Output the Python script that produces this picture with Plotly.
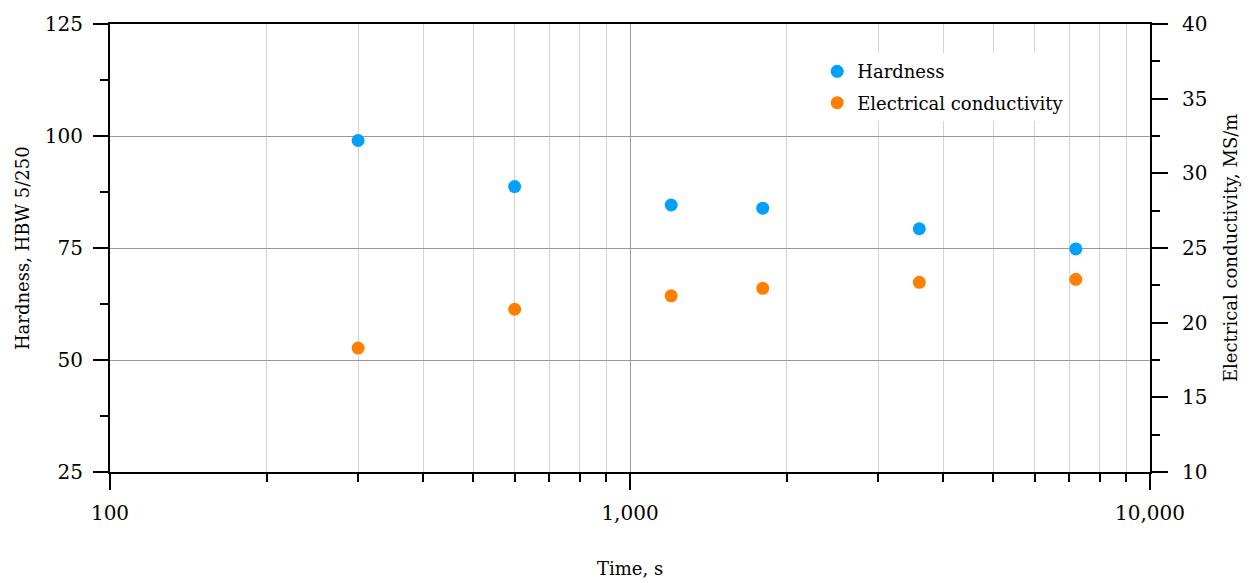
import plotly.graph_objects as go

time_s = [300, 600, 1200, 1800, 3600, 7200]
hardness = [99.0, 88.7, 84.6, 83.9, 79.3, 74.8]
conductivity = [18.3, 20.9, 21.8, 22.3, 22.7, 22.9]

FONT = "DejaVu Serif"
BLUE = "#00A0FF"
ORANGE = "#FF8000"

fig = go.Figure()
fig.add_trace(go.Scatter(x=time_s, y=hardness, mode="markers", name="Hardness",
                         marker=dict(color=BLUE, size=13), legendgroup="a", yaxis="y"))
fig.add_trace(go.Scatter(x=time_s, y=conductivity, mode="markers", name="Electrical conductivity",
                         marker=dict(color=ORANGE, size=13), legendgroup="b", yaxis="y2"))

fig.update_layout(
    width=1245, height=575,
    margin=dict(l=102, r=103, t=16, b=111, autoexpand=False),
    paper_bgcolor="white", plot_bgcolor="white",
    font=dict(family=FONT, size=20, color="black"),
    showlegend=True,
    legend=dict(x=0.68, y=0.935, xanchor="left", yanchor="top", bgcolor="white",
                font=dict(family=FONT, size=18), tracegroupgap=5),
    xaxis=dict(type="log", range=[2, 4], showline=True, linecolor="black", linewidth=2,
               mirror=True, ticks="outside", ticklen=16, tickwidth=2, tickcolor="black",
               tickvals=[100, 1000, 10000], ticktext=["100", "1,000", "10,000"],
               showgrid=True, gridcolor="#9a9a9a", gridwidth=1, automargin=False,
               minor=dict(ticks="outside", ticklen=8, tickwidth=2, tickcolor="black",
                          dtick="D1", showgrid=True, gridcolor="#d4d4d4", gridwidth=1),
               ticklabelstandoff=6, zeroline=False),
    yaxis=dict(range=[25, 125], tick0=25, dtick=25, showline=True, linecolor="black", linewidth=2,
               ticks="outside", ticklen=15, tickwidth=2, tickcolor="black", automargin=False,
               showgrid=True, gridcolor="#9a9a9a", gridwidth=1, zeroline=False,
               minor=dict(ticks="outside", ticklen=8, tickwidth=2, tickcolor="black",
                          dtick=12.5, tick0=25, showgrid=False),
               ticklabelstandoff=6),
    yaxis2=dict(range=[10, 40], tick0=10, dtick=5, overlaying="y", side="right",
                showline=True, linecolor="black", linewidth=2, automargin=False,
                ticks="outside", ticklen=16, tickwidth=2, tickcolor="black",
                showgrid=False, zeroline=False,
                minor=dict(ticks="outside", ticklen=8, tickwidth=2, tickcolor="black",
                           dtick=2.5, tick0=10, showgrid=False),
                ticklabelstandoff=10),
    annotations=[
        dict(text="Time, s", xref="paper", yref="paper", x=0.5, y=-0.215,
             xanchor="center", yanchor="middle", showarrow=False, font=dict(size=18)),
        dict(text="Hardness, HBW 5/250", xref="paper", yref="paper", x=-0.0845, y=0.5,
             textangle=-90, xanchor="center", yanchor="middle", showarrow=False, font=dict(size=18)),
        dict(text="Electrical conductivity, MS/m", xref="paper", yref="paper", x=1.077, y=0.5,
             textangle=-90, xanchor="center", yanchor="middle", showarrow=False, font=dict(size=18)),
    ],
)

fig.write_html("out.html")
